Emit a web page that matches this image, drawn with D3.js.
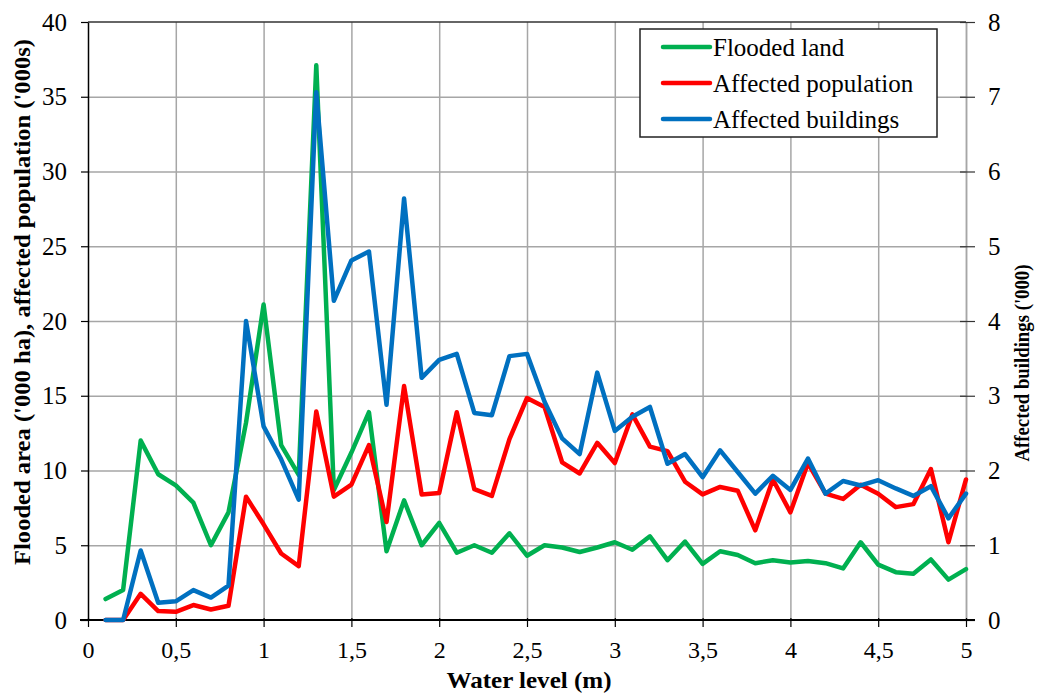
<!DOCTYPE html>
<html>
<head>
<meta charset="utf-8">
<script src="https://cdn.jsdelivr.net/npm/d3@7"></script>
<style>
  body { margin: 0; background: #fff; }
  text { font-family: "Liberation Serif", "Times New Roman", serif; fill: #000; }
</style>
</head>
<body>
<div id="chart"></div>
<script>
// water levels (m)
var levels = [0.1, 0.2, 0.3, 0.4, 0.5, 0.6, 0.7, 0.8, 0.9, 1.0,
	1.1, 1.2, 1.3, 1.4, 1.5, 1.6, 1.7, 1.8, 1.9, 2.0,
	2.1, 2.2, 2.3, 2.4, 2.5, 2.6, 2.7, 2.8, 2.9, 3.0,
	3.1, 3.2, 3.3, 3.4, 3.5, 3.6, 3.7, 3.8, 3.9, 4.0,
	4.1, 4.2, 4.3, 4.4, 4.5, 4.6, 4.7, 4.8, 4.9, 5.0];

// flooded land ('000 ha) - left axis
var floodedLand = [1.4, 2.0, 12.0, 9.75, 9.0, 7.85, 5.0, 7.2, 13.2, 21.1,
	11.7, 9.7, 37.1, 8.7, 11.2, 13.9, 4.6, 8.0, 5.0, 6.5,
	4.5, 5.0, 4.5, 5.8, 4.3, 5.0, 4.85, 4.55, 4.85, 5.2,
	4.7, 5.6, 4.0, 5.25, 3.75, 4.6, 4.35, 3.8, 4.0, 3.85,
	3.95, 3.8, 3.45, 5.2, 3.7, 3.2, 3.1, 4.05, 2.7, 3.4];

// affected population ('000s) - left axis
var affectedPop = [0, 0, 1.75, 0.6, 0.55, 1.0, 0.7, 0.95, 8.25, 6.4,
	4.45, 3.6, 13.95, 8.25, 9.05, 11.7, 6.55, 15.65, 8.4, 8.5,
	13.9, 8.75, 8.3, 12.1, 14.85, 14.25, 10.55, 9.8, 11.85, 10.5,
	13.75, 11.6, 11.3, 9.25, 8.4, 8.9, 8.65, 6.0, 9.4, 7.2,
	10.5, 8.45, 8.1, 9.05, 8.45, 7.55, 7.75, 10.1, 5.2, 9.4];

// affected buildings ('000) - right axis
var affectedBld = [0, 0, 0.93, 0.23, 0.25, 0.4, 0.3, 0.46, 4.0, 2.59,
	2.15, 1.61, 7.06, 4.27, 4.81, 4.93, 2.88, 5.64, 3.24, 3.48,
	3.56, 2.77, 2.74, 3.53, 3.56, 2.92, 2.43, 2.22, 3.31, 2.53,
	2.72, 2.85, 2.09, 2.22, 1.91, 2.27, 1.98, 1.69, 1.93, 1.74,
	2.16, 1.69, 1.86, 1.8, 1.87, 1.76, 1.66, 1.79, 1.36, 1.69];

var xTicks = [0, 0.5, 1, 1.5, 2, 2.5, 3, 3.5, 4, 4.5, 5];
var leftTicks = [0, 5, 10, 15, 20, 25, 30, 35, 40];
var rightTicks = [0, 1, 2, 3, 4, 5, 6, 7, 8];

var seriesNames = ["Flooded land", "Affected population", "Affected buildings"];
var seriesColors = ["#00B050", "#FF0000", "#0070C0"];

var W = 1039, H = 695;
var plotL = 88, plotR = 966, plotT = 22, plotB = 620;

var svg = d3.select("#chart").append("svg")
	.attr("width", W)
	.attr("height", H);

var x = d3.scaleLinear().domain([0, 5]).range([plotL, plotR]);
var yL = d3.scaleLinear().domain([0, 40]).range([plotB, plotT]);
var yR = d3.scaleLinear().domain([0, 8]).range([plotB, plotT]);

var fmt = function(d) { return String(d).replace(".", ","); };

// grid
svg.append("g")
	.attr("transform", "translate(0," + plotB + ")")
	.call(d3.axisBottom(x).tickValues(xTicks.slice(1)).tickSize(-(plotB - plotT)).tickFormat(""))
	.call(g => g.select(".domain").remove())
	.call(g => g.selectAll("line").attr("stroke", "#a6a6a6").attr("stroke-width", 1.5));

svg.append("g")
	.attr("transform", "translate(" + plotL + ",0)")
	.call(d3.axisLeft(yL).tickValues(leftTicks.slice(1, -1)).tickSize(-(plotR - plotL)).tickFormat(""))
	.call(g => g.select(".domain").remove())
	.call(g => g.selectAll("line").attr("stroke", "#a6a6a6").attr("stroke-width", 1.5));

// top border
svg.append("line")
	.attr("x1", plotL).attr("x2", plotR)
	.attr("y1", yL(40)).attr("y2", yL(40))
	.attr("stroke", "#333").attr("stroke-width", 1.5);

// left axis
var gL = svg.append("g")
	.attr("transform", "translate(" + plotL + ",0)")
	.call(d3.axisLeft(yL).tickValues(leftTicks).tickSize(7).tickSizeOuter(0).tickPadding(14));
gL.select(".domain").attr("stroke", "#000").attr("stroke-width", 1.5);
gL.selectAll("line").attr("stroke", "#000").attr("stroke-width", 1.2);
gL.selectAll("text").attr("font-size", "25px").attr("font-family", "Liberation Serif");

// right axis
var gR = svg.append("g")
	.attr("transform", "translate(" + plotR + ",0)")
	.call(d3.axisRight(yR).tickValues(rightTicks).tickSize(9).tickSizeOuter(0).tickPadding(13));
gR.select(".domain").attr("stroke", "#a6a6a6").attr("stroke-width", 1.5);
gR.selectAll("line").attr("stroke", "#333").attr("stroke-width", 1.2).attr("x1", -6);
gR.selectAll("text").attr("font-size", "25px").attr("font-family", "Liberation Serif");

// x axis
var gX = svg.append("g")
	.attr("transform", "translate(0," + plotB + ")")
	.call(d3.axisBottom(x).tickValues(xTicks).tickSize(7).tickSizeOuter(0).tickPadding(14).tickFormat(fmt));
gX.select(".domain").remove();
gX.append("line")
	.attr("x1", plotL - 8).attr("x2", plotR + 9)
	.attr("stroke", "#000").attr("stroke-width", 2.2);
gX.selectAll(".tick line").attr("stroke", "#000").attr("stroke-width", 1.2).attr("y1", -2);
gX.selectAll("text").attr("font-size", "24px").attr("font-family", "Liberation Serif");

// series
var data = levels.map(function(l, i) {
	return { x: l, a: floodedLand[i], b: affectedPop[i], c: affectedBld[i] };
});

var lineA = d3.line().x(d => x(d.x)).y(d => yL(d.a));
var lineB = d3.line().x(d => x(d.x)).y(d => yL(d.b));
var lineC = d3.line().x(d => x(d.x)).y(d => yR(d.c));

[lineA, lineB, lineC].forEach(function(ln, i) {
	svg.append("path")
		.datum(data)
		.attr("d", ln)
		.attr("fill", "none")
		.attr("stroke", seriesColors[i])
		.attr("stroke-width", 4.5)
		.attr("stroke-linejoin", "round")
		.attr("stroke-linecap", "round");
});

// axis titles
svg.append("text")
	.attr("x", 529)
	.attr("y", 688)
	.attr("text-anchor", "middle")
	.attr("font-size", "24px")
	.attr("font-weight", "bold")
	.attr("textLength", 165)
	.attr("lengthAdjust", "spacingAndGlyphs")
	.text("Water level (m)");

svg.append("text")
	.attr("transform", "translate(30,302) rotate(-90)")
	.attr("text-anchor", "middle")
	.attr("font-size", "24px")
	.attr("font-weight", "bold")
	.attr("textLength", 526)
	.attr("lengthAdjust", "spacingAndGlyphs")
	.text("Flooded area ('000 ha), affected population ('000s)");

svg.append("text")
	.attr("transform", "translate(1029,363) rotate(-90)")
	.attr("text-anchor", "middle")
	.attr("font-size", "22px")
	.attr("font-weight", "bold")
	.attr("textLength", 197)
	.attr("lengthAdjust", "spacingAndGlyphs")
	.text("Affected buildings ('000)");

// legend
var legend = svg.append("g")
	.attr("class", "legend")
	.attr("transform", "translate(640,29)");

legend.append("rect")
	.attr("width", 297)
	.attr("height", 108)
	.attr("fill", "#fff")
	.attr("stroke", "#222")
	.attr("stroke-width", 1.5);

legend.selectAll("line.key")
	.data(seriesNames)
	.enter()
	.append("line")
	.attr("class", "key")
	.attr("x1", 23).attr("x2", 70)
	.attr("y1", function(d, i) { return 18 + i * 36; })
	.attr("y2", function(d, i) { return 18 + i * 36; })
	.attr("stroke", function(d, i) { return seriesColors[i]; })
	.attr("stroke-width", 4.5)
	.attr("stroke-linecap", "round");

legend.selectAll("text")
	.data(seriesNames)
	.enter()
	.append("text")
	.attr("x", 73)
	.attr("y", function(d, i) { return 27 + i * 36; })
	.attr("font-size", "25px")
	.text(function(d) { return d; });
</script>
</body>
</html>
